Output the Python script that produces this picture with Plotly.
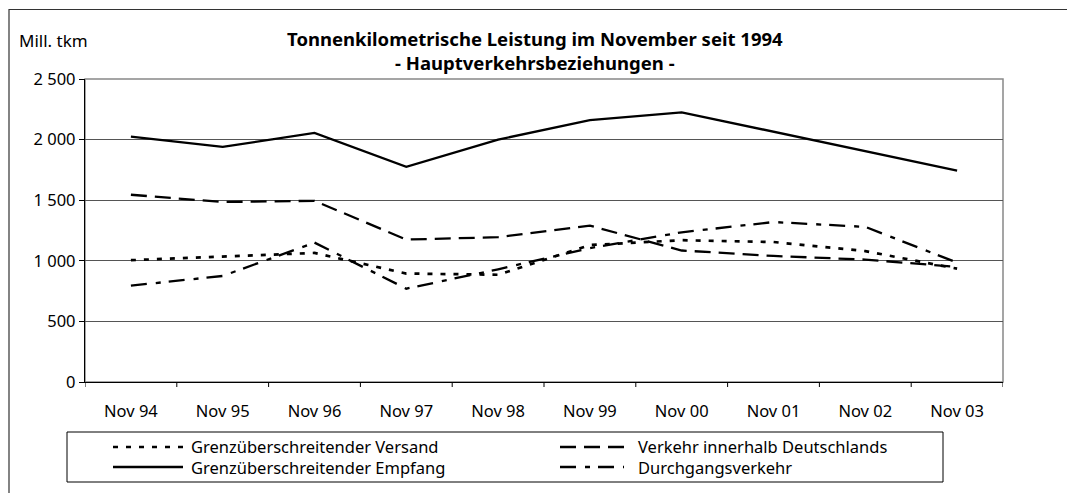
import plotly.graph_objects as go

categories = ["Nov 94", "Nov 95", "Nov 96", "Nov 97", "Nov 98", "Nov 99", "Nov 00", "Nov 01", "Nov 02", "Nov 03"]
versand = [1005, 1035, 1065, 895, 885, 1130, 1170, 1155, 1080, 935]
innerhalb = [1545, 1485, 1495, 1175, 1195, 1290, 1085, 1040, 1010, 950]
empfang = [2025, 1940, 2055, 1775, 2000, 2160, 2225, 2065, 1910, 1745]
durchgang = [795, 875, 1150, 770, 930, 1105, 1235, 1320, 1280, 985]

series_names = ["Grenzüberschreitender Versand", "Verkehr innerhalb Deutschlands",
                "Grenzüberschreitender Empfang", "Durchgangsverkehr"]
y_ticks = [0, 500, 1000, 1500, 2000, 2500]

FONT = "Noto Sans"
dash_styles = ["5px,8px", "16px,8px", "solid", "16px,9px,5px,8px"]
widths = [2.7, 2.3, 2.3, 2.3]
series = [versand, innerhalb, empfang, durchgang]

# page body has an 8px margin: figure origin is at screen (8, 8)
OFF = 8
PL, PR, PT, PB = 85, 1003, 79, 382   # plot area in screen pixels
W, H = 1075, 493

fig = go.Figure()
x_idx = list(range(len(categories)))
for name, vals, dsh, w in zip(series_names, series, dash_styles, widths):
    fig.add_trace(go.Scatter(x=x_idx, y=vals, mode="lines", name=name,
                             line=dict(color="black", width=w, dash=dsh),
                             showlegend=False))

fig.update_layout(
    width=W, height=H,
    margin=dict(l=PL - OFF, r=W + OFF - PR, t=PT - OFF, b=H + OFF - PB),
    paper_bgcolor="white", plot_bgcolor="white",
    font=dict(family=FONT, size=16, color="black"),
    showlegend=False,
)
fig.update_xaxes(
    range=[-0.5, 9.5], tickmode="array", tickvals=x_idx, ticktext=categories,
    showgrid=False, zeroline=False, showline=True, linecolor="black", linewidth=1.3,
    ticks="", tickfont=dict(size=16.5, family=FONT), ticklabelstandoff=14,
)
fig.update_yaxes(
    range=[0, 2500], tickmode="array", tickvals=y_ticks,
    ticktext=[f"{v:,}".replace(",", " ") for v in y_ticks],
    showgrid=True, gridcolor="#555555", gridwidth=1, zeroline=False,
    showline=True, linecolor="black", linewidth=1.3,
    ticks="outside", ticklen=5, tickcolor="black", tickfont=dict(size=16.5, family=FONT),
)

def px(x):
    return (x - PL) / (PR - PL)

def py(y):
    return (PB - y) / (PB - PT)

shapes = []
# outer border
shapes.append(dict(type="rect", xref="paper", yref="paper", x0=px(9), x1=px(1200), y0=py(600), y1=py(9.5),
                   line=dict(color="#333333", width=1.2), layer="below"))
# plot area border (gray)
shapes.append(dict(type="rect", xref="paper", yref="paper", x0=0, x1=1, y0=0, y1=1,
                   line=dict(color="#888888", width=1.5), layer="below"))
# category boundary tick marks
for i in range(len(categories) + 1):
    shapes.append(dict(type="line", xref="x", yref="paper", x0=i - 0.5, x1=i - 0.5,
                       y0=0, y1=py(PB + 5), line=dict(color="black", width=1)))

# legend box
shapes.append(dict(type="rect", xref="paper", yref="paper", x0=px(67), x1=px(943), y0=py(482), y1=py(432),
                   line=dict(color="black", width=1)))
legend_pos = [(113, 183, 447), (560, 624, 447), (113, 183, 467), (560, 624, 467)]
for (lx0, lx1, ly), dsh, w in zip(legend_pos, dash_styles, widths):
    shapes.append(dict(type="line", xref="paper", yref="paper", x0=px(lx0), x1=px(lx1),
                       y0=py(ly), y1=py(ly), line=dict(color="black", width=w, dash=dsh)))

annotations = []
# legend text columns
annotations.append(dict(xref="paper", yref="paper", x=px(189), y=py(457),
                        text=series_names[0] + "<br>" + series_names[2],
                        showarrow=False, xanchor="left", yanchor="middle", align="left",
                        font=dict(size=16.5, family=FONT)))
annotations.append(dict(xref="paper", yref="paper", x=px(636), y=py(457),
                        text=series_names[1] + "<br>" + series_names[3],
                        showarrow=False, xanchor="left", yanchor="middle", align="left",
                        font=dict(size=16.5, family=FONT)))

annotations.append(dict(xref="paper", yref="paper", x=px(535), y=py(50.5),
                        text="<b>Tonnenkilometrische Leistung im November seit 1994</b><br>"
                             "<b>- Hauptverkehrsbeziehungen -</b>",
                        showarrow=False, xanchor="center", yanchor="middle", align="center",
                        font=dict(size=18.5, family=FONT)))
annotations.append(dict(xref="paper", yref="paper", x=px(17), y=py(40), text="Mill. tkm",
                        showarrow=False, xanchor="left", yanchor="middle", font=dict(size=17, family=FONT)))

fig.update_layout(shapes=shapes, annotations=annotations)
fig.write_html("out.html")
